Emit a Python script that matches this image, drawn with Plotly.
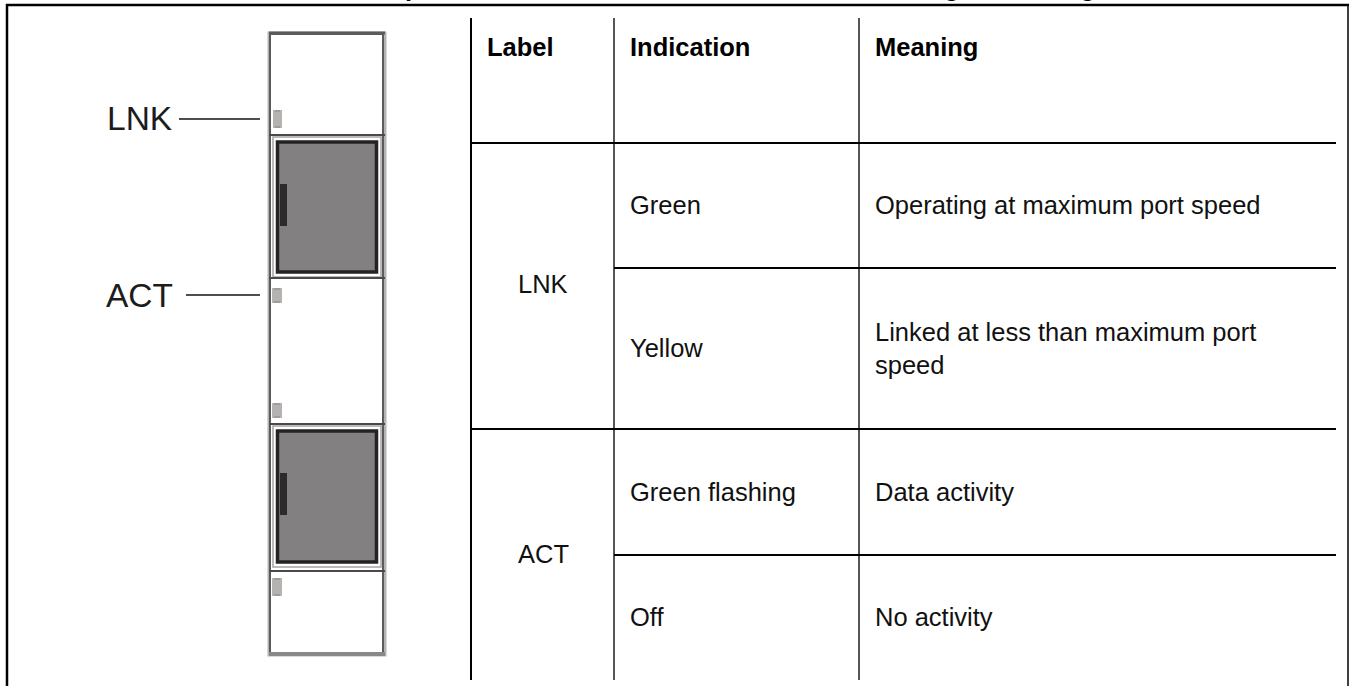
import plotly.graph_objects as go

# ---- content ----
HEADERS = ["Label", "Indication", "Meaning"]
GROUP_LABELS = ["LNK", "ACT"]
INDICATIONS = ["Green", "Yellow", "Green flashing", "Off"]
MEANINGS = ["Operating at maximum port speed",
            "Linked at less than maximum port<br>speed",
            "Data activity",
            "No activity"]
CALLOUTS = ["LNK", "ACT"]
CLIPPED_TITLE_GLYPHS = ["p", "g", "g"]

# ---- layout (pixel space of the page) ----
W, H = 1349, 686
COL_X = [471, 614, 859]
TABLE_RIGHT = 1336
TABLE_TOP, TABLE_BOTTOM = 18, 680
ROW_FULL_Y = [143, 429]
ROW_PART_Y = [268, 555]

GROUP_Y = [284, 554]
ROW_Y = [205, 348, 492, 617]
CALLOUT_Y = [118, 295]
LEADERS = [(179, 260, 119), (186, 260, 295)]
LEDS = [(273, 282, 110, 128), (272, 282, 288, 303), (272, 282, 403, 418), (272, 282, 578, 596)]
DOORS = [(141, 273), (430, 563)]
DIVIDERS = [135, 278, 424, 571]

shapes = []
def line(x0, y0, x1, y1, color="#000", width=2):
    shapes.append(dict(type="line", x0=x0, y0=y0, x1=x1, y1=y1, layer="above",
                       line=dict(color=color, width=width)))
def rect(x0, y0, x1, y1, fill=None, color=None, width=0):
    shapes.append(dict(type="rect", x0=x0, y0=y0, x1=x1, y1=y1, layer="above",
                       fillcolor=fill or "rgba(0,0,0,0)",
                       line=dict(color=color or "rgba(0,0,0,0)", width=width)))

# page frame
line(6, 5, 1349, 5, width=2.5)
line(7, 4, 7, H, width=2.5)
line(1348, 4, 1348, H, width=1.5)

# table rules
line(COL_X[0], TABLE_TOP, COL_X[0], TABLE_BOTTOM, "#000", 2)
line(COL_X[1], TABLE_TOP, COL_X[1], TABLE_BOTTOM, "#555", 2)
line(COL_X[2], TABLE_TOP, COL_X[2], TABLE_BOTTOM, "#555", 2)
for y in ROW_FULL_Y:
    line(COL_X[0], y, TABLE_RIGHT, y, width=2)
for y in ROW_PART_Y:
    line(COL_X[1], y, TABLE_RIGHT, y, width=2)

# device: soft outer edge, then dark core
rect(269, 33, 385, 655, None, "#b5b3b3", 3)
rect(270, 34, 383, 654, None, "#5c5a5a", 2)
line(269, 654, 385, 654, "#8a8787", 4)
line(269, 33, 385, 33, "#5c5a5a", 3)
for (top, bot) in DOORS:
    rect(273, top - 4, 381, bot + 4, "#fff", "#a5a3a3", 1.5)
    rect(277.5, top + 1, 376.5, bot - 1, "#828081", "#242222", 3.5)
    rect(280, top + 43, 287, top + 85, "#2c2a2a")
for y in DIVIDERS:
    line(269, y, 385, y, "#4a4848", 2)
for (x0, x1, y0, y1) in LEDS:
    rect(x0, y0, x1, y1, "#b5b2b2")
    line(x0 + 2, y0 + 1, x1 - 2, y0 + 1, "#8a8787", 1)
    line(x0 + 2, y1 - 1, x1 - 2, y1 - 1, "#8a8787", 1)
for (x0, x1, y) in LEADERS:
    line(x0, y, x1, y, "#4f4d4d", 2)

BODY = "Liberation Sans"
SIZE = 25.5
annotations = []
def text(x, y, s, xanchor="left", size=SIZE, bold=False, color="#111", yanchor="middle"):
    annotations.append(dict(x=x, y=y, text=f"<b>{s}</b>" if bold else s, showarrow=False,
                            xanchor=xanchor, yanchor=yanchor, align="left",
                            borderpad=0, borderwidth=0,
                            font=dict(family=BODY, size=size, color=color)))

for s, x in zip(HEADERS, [487, 630, 875]):
    text(x, 47, s, bold=True, color="#000")
for s, y in zip(GROUP_LABELS, GROUP_Y):
    text(543, y, s, xanchor="center")
for s, y in zip(INDICATIONS, ROW_Y):
    text(630, y, s)
for s, y in zip(MEANINGS, ROW_Y):
    text(875, y, s)
for s, y in zip(CALLOUTS, CALLOUT_Y):
    text(139, y, s, xanchor="center", size=33.5, color="#1c1c1c")
for s, x in zip(CLIPPED_TITLE_GLYPHS, [413, 952, 1088]):
    text(x, 1, s, xanchor="center", bold=True, yanchor="bottom", color="#000")

fig = go.Figure()
fig.update_layout(
    width=W, height=H, autosize=False,
    margin=dict(l=0, r=0, t=0, b=0, pad=0),
    paper_bgcolor="#fff", plot_bgcolor="#fff",
    xaxis=dict(range=[0, W], visible=False, fixedrange=True),
    yaxis=dict(range=[H, 0], visible=False, fixedrange=True),
    showlegend=False, shapes=shapes, annotations=annotations,
)
fig.write_html("out.html", config=dict(displayModeBar=False),
               post_script="document.body.style.margin='0';document.documentElement.style.overflow='hidden';")
